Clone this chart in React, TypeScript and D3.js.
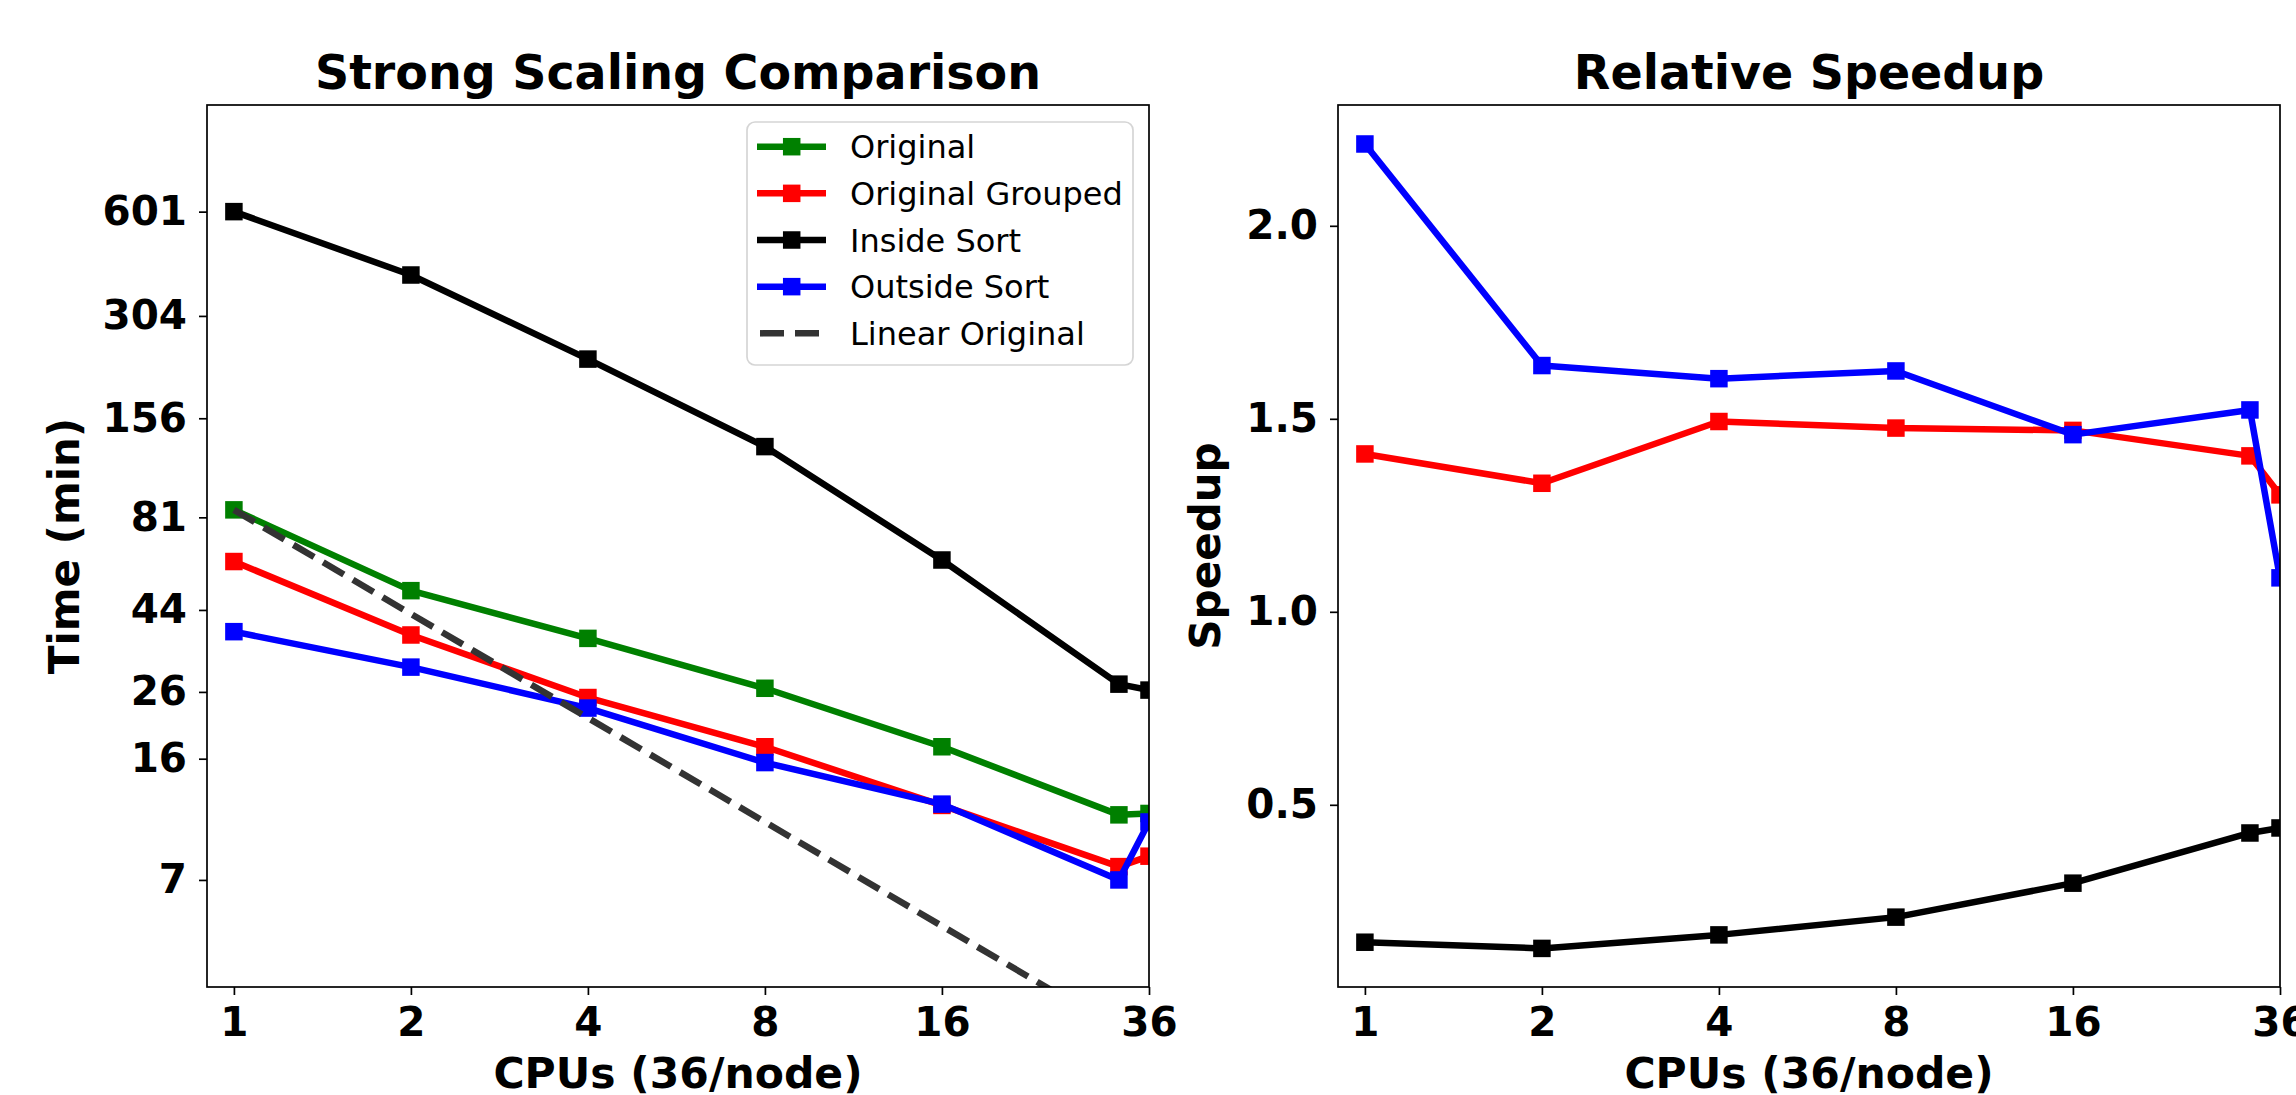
import { useEffect, useRef } from 'react';
import * as d3 from 'd3';

const cpus = [1, 2, 4, 8, 16, 32, 36];
const cpuTicks = [1, 2, 4, 8, 16, 36];

// left panel: run time in minutes
const timeOriginal = [82.4, 48.1, 35.0, 25.1, 17.0, 10.8, 10.9];
const timeGrouped = [58.4, 35.8, 23.6, 17.0, 11.5, 7.65, 8.2];
const timeInside = [601, 394, 225, 125.6, 59.0, 25.8, 24.8];
const timeOutside = [36.6, 28.9, 22.0, 15.3, 11.6, 7.0, 10.3];
const timeLinear = [82.4, 41.2, 20.6, 10.3, 5.15, 2.58, 2.29];

// tick positions on the log axis and the labels printed at them
const timeTickValues = [601, 300, 151.7, 78.4, 42.3, 24.5, 15.7, 7];
const timeTickLabels = ['601', '304', '156', '81', '44', '26', '16', '7'];

// right panel: speedup relative to Original
const speedupGrouped = [1.409, 1.333, 1.493, 1.476, 1.47, 1.404, 1.303];
const speedupInside = [0.144, 0.128, 0.163, 0.209, 0.297, 0.427, 0.44];
const speedupOutside = [2.212, 1.638, 1.604, 1.624, 1.459, 1.523, 1.088];
const speedupTicks = [0.5, 1.0, 1.5, 2.0];

const W = 2296;
const H = 1095;
const TOP = 105;
const BOTTOM = 987;
const FONT = 'DejaVu Sans, Verdana, sans-serif';

const App = () => {
  const svgRef = useRef(null);

  useEffect(() => {
    const svg = d3.select(svgRef.current);
    svg.selectAll('*').remove();

    const drawPanel = ({ id, left, right, y, yTicks, yLabels, title, yTitle, series, legend }) => {
      const x = d3.scaleLog().base(2).domain([0.9, 36]).range([left, right]);
      const g = svg.append('g');

      g.append('defs').append('clipPath').attr('id', id)
        .append('rect')
        .attr('x', left).attr('y', TOP)
        .attr('width', right - left).attr('height', BOTTOM - TOP);

      const plot = g.append('g').attr('clip-path', `url(#${id})`);

      series.forEach(s => {
        const pts = cpus.map((c, i) => [x(c), y(s.values[i])]);
        plot.append('path')
          .attr('d', d3.line()(pts))
          .attr('fill', 'none')
          .attr('stroke', s.color)
          .attr('stroke-width', 6.5)
          .attr('stroke-linejoin', 'round')
          .attr('stroke-dasharray', s.dashed ? '24 10.5' : null);
        if (!s.dashed) {
          plot.selectAll(null).data(pts).enter().append('rect')
            .attr('x', d => d[0] - 8.75)
            .attr('y', d => d[1] - 8.75)
            .attr('width', 17.5)
            .attr('height', 17.5)
            .attr('fill', s.color);
        }
      });

      // frame
      g.append('rect')
        .attr('x', left).attr('y', TOP)
        .attr('width', right - left).attr('height', BOTTOM - TOP)
        .attr('fill', 'none').attr('stroke', '#000').attr('stroke-width', 1.7);

      const yAxis = d3.axisLeft(y).tickValues(yTicks).tickSize(8).tickPadding(12)
        .tickFormat((d, i) => yLabels[i]);
      const xAxis = d3.axisBottom(x).tickValues(cpuTicks).tickSize(8).tickPadding(12)
        .tickFormat(d => String(d));

      const styleAxis = a => {
        a.select('.domain').remove();
        a.selectAll('line').attr('stroke', '#000').attr('stroke-width', 1.7);
        a.selectAll('text')
          .attr('fill', '#000')
          .style('font-family', FONT)
          .style('font-weight', 'bold')
          .style('font-size', '40.5px');
      };

      g.append('g').attr('transform', `translate(${left},0)`).call(yAxis).call(styleAxis);
      g.append('g').attr('transform', `translate(0,${BOTTOM})`).call(xAxis).call(styleAxis);

      const cx = (left + right) / 2;
      g.append('text')
        .attr('x', cx).attr('y', 89)
        .attr('text-anchor', 'middle')
        .style('font-family', FONT).style('font-weight', 'bold').style('font-size', '47.5px')
        .text(title);

      g.append('text')
        .attr('x', cx).attr('y', 1088)
        .attr('text-anchor', 'middle')
        .style('font-family', FONT).style('font-weight', 'bold').style('font-size', '42.5px')
        .text('CPUs (36/node)');

      g.append('text')
        .attr('transform', `translate(${yTitle.x},${(TOP + BOTTOM) / 2}) rotate(-90)`)
        .attr('text-anchor', 'middle')
        .style('font-family', FONT).style('font-weight', 'bold').style('font-size', '42px')
        .text(yTitle.text);

      if (legend) {
        const lg = g.append('g');
        lg.append('rect')
          .attr('x', 747).attr('y', 122)
          .attr('width', 386).attr('height', 243)
          .attr('rx', 8)
          .attr('fill', '#fff')
          .attr('stroke', '#d5d5d5')
          .attr('stroke-width', 1.7);
        series.forEach((s, i) => {
          const ly = 146.7 + i * 46.65;
          lg.append('line')
            .attr('x1', s.dashed ? 760 : 757).attr('x2', s.dashed ? 820 : 826)
            .attr('y1', ly).attr('y2', ly)
            .attr('stroke', s.color)
            .attr('stroke-width', 6.5)
            .attr('stroke-dasharray', s.dashed ? '24 11' : null);
          if (!s.dashed) {
            lg.append('rect')
              .attr('x', 791.7 - 8.75).attr('y', ly - 8.75)
              .attr('width', 17.5).attr('height', 17.5)
              .attr('fill', s.color);
          }
          lg.append('text')
            .attr('x', 850).attr('y', ly).attr('dy', '0.36em')
            .style('font-family', FONT).style('font-size', '32px')
            .text(s.name);
        });
      }
    };

    drawPanel({
      id: 'clip-time',
      left: 207,
      right: 1149,
      y: d3.scaleLog().domain([3.43, 1223]).range([BOTTOM, TOP]),
      yTicks: timeTickValues,
      yLabels: timeTickLabels,
      title: 'Strong Scaling Comparison',
      yTitle: { text: 'Time (min)', x: 79 },
      legend: true,
      series: [
        { name: 'Original', color: 'green', values: timeOriginal },
        { name: 'Original Grouped', color: 'red', values: timeGrouped },
        { name: 'Inside Sort', color: 'black', values: timeInside },
        { name: 'Outside Sort', color: 'blue', values: timeOutside },
        { name: 'Linear Original', color: '#333333', values: timeLinear, dashed: true },
      ],
    });

    drawPanel({
      id: 'clip-speedup',
      left: 1338,
      right: 2280,
      y: d3.scaleLinear().domain([0.028, 2.313]).range([BOTTOM, TOP]),
      yTicks: speedupTicks,
      yLabels: speedupTicks.map(d => d.toFixed(1)),
      title: 'Relative Speedup',
      yTitle: { text: 'Speedup', x: 1220 },
      legend: false,
      series: [
        { name: 'Original Grouped', color: 'red', values: speedupGrouped },
        { name: 'Inside Sort', color: 'black', values: speedupInside },
        { name: 'Outside Sort', color: 'blue', values: speedupOutside },
      ],
    });
  }, []);

  return (
    <svg
      ref={svgRef}
      width={W}
      height={H}
      style={{ position: 'absolute', left: 0, top: 0, background: '#fff' }}
    />
  );
};

export default App;
